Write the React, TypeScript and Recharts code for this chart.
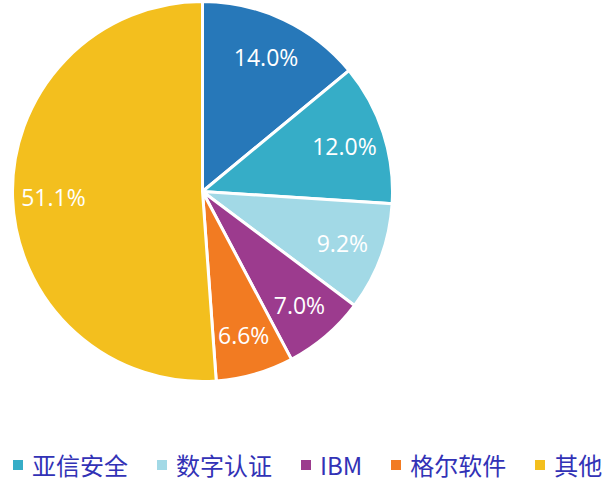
import { PieChart, Pie, Cell, Legend } from "recharts";

const NAMES = ["吉大正元", "亚信安全", "数字认证", "IBM", "格尔软件", "其他"];
const SHARES = [14.0, 12.0, 9.2, 7.0, 6.6, 51.1];
const COLORS = ["#2778b9", "#36adc7", "#a2d9e6", "#9c3b8e", "#f27b22", "#f3bf1e"];

const data = NAMES.map((name, i) => ({ name, value: SHARES[i] }));

const RAD = Math.PI / 180;

function renderLabel(props: any) {
  const { cx, cy, midAngle, outerRadius, value } = props;
  const r = outerRadius * 0.785;
  const x = cx + r * Math.cos(-midAngle * RAD);
  const y = cy + r * Math.sin(-midAngle * RAD);
  return (
    <text
      x={x}
      y={y}
      fill="#ffffff"
      textAnchor="middle"
      dominantBaseline="central"
      fontSize={23}
      fontFamily="'Open Sans', 'Noto Sans', sans-serif"
    >
      {value.toFixed(1)}%
    </text>
  );
}

// legend is clipped in the original: first item sits off the left edge
function LegendRow() {
  return (
    <div
      style={{
        display: "flex",
        alignItems: "center",
        whiteSpace: "nowrap",
        fontFamily: "'Noto Sans CJK SC', 'Open Sans', sans-serif",
      }}
    >
      {data.slice(1).map((d, i) => (
        <div key={d.name} style={{ display: "flex", alignItems: "center", flexShrink: 0, marginRight: 29 }}>
          <span style={{ width: 10, height: 10, background: COLORS[i + 1], display: "inline-block", marginRight: 9, flexShrink: 0 }} />
          <span style={{ fontSize: 24, color: "#3232b6", lineHeight: "28px", whiteSpace: "nowrap" }}>{d.name}</span>
        </div>
      ))}
    </div>
  );
}

export default function App() {
  return (
    <div style={{ position: "absolute", left: 0, top: 0, width: 608, height: 482, background: "#fff", overflow: "hidden" }}>
      <PieChart width={608} height={482} margin={{ top: 0, right: 0, bottom: 0, left: 0 }}>
        <Pie
          data={data}
          dataKey="value"
          nameKey="name"
          cx={202.5}
          cy={191.5}
          outerRadius={190}
          startAngle={90}
          endAngle={-270}
          stroke="#ffffff"
          strokeWidth={3}
          label={renderLabel}
          labelLine={false}
          isAnimationActive={false}
        >
          {data.map((d, i) => (
            <Cell key={d.name} fill={COLORS[i]} />
          ))}
        </Pie>
        <Legend
          content={() => <LegendRow />}
          wrapperStyle={{ position: "absolute", left: 13, top: 451, width: 595, overflow: "visible" }}
        />
      </PieChart>
    </div>
  );
}
